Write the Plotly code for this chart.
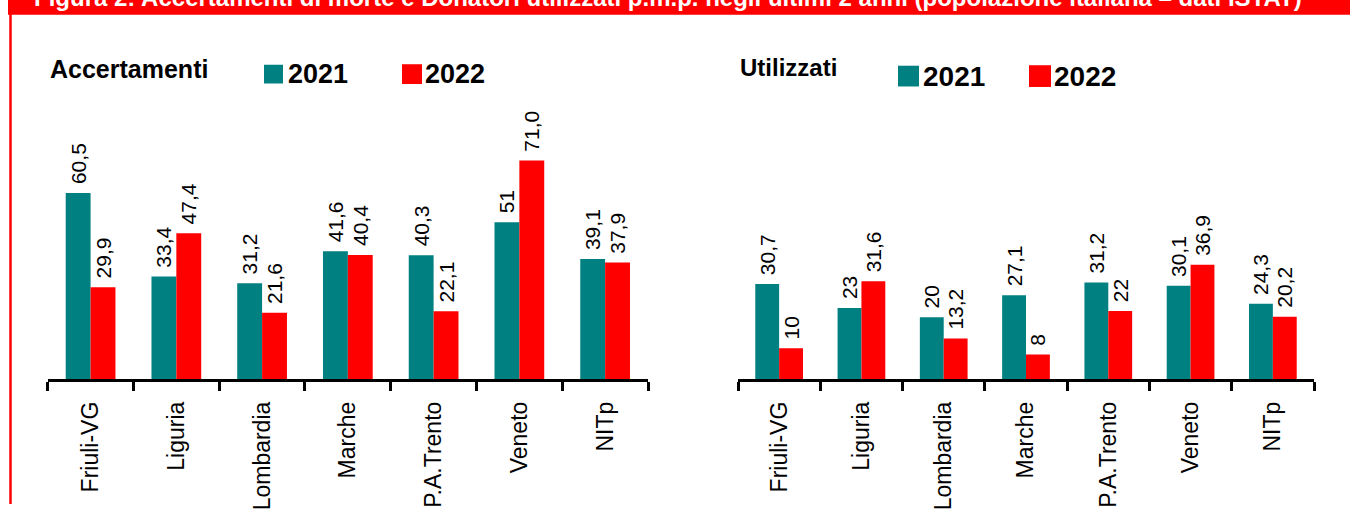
import plotly.graph_objects as go

W, H = 1350, 510

categories = ["Friuli-VG", "Liguria", "Lombardia", "Marche", "P.A.Trento", "Veneto", "NITp"]
series_names = ["2021", "2022"]

acc_2021 = [60.5, 33.4, 31.2, 41.6, 40.3, 51, 39.1]
acc_2022 = [29.9, 47.4, 21.6, 40.4, 22.1, 71.0, 37.9]
acc_2021_labels = ["60,5", "33,4", "31,2", "41,6", "40,3", "51", "39,1"]
acc_2022_labels = ["29,9", "47,4", "21,6", "40,4", "22,1", "71,0", "37,9"]

util_2021 = [30.7, 23, 20, 27.1, 31.2, 30.1, 24.3]
util_2022 = [10, 31.6, 13.2, 8, 22, 36.9, 20.2]
util_2021_labels = ["30,7", "23", "20", "27,1", "31,2", "30,1", "24,3"]
util_2022_labels = ["10", "31,6", "13,2", "8", "22", "36,9", "20,2"]

TEAL = "#008080"
RED = "#FF0000"
FONT = "Liberation Sans, Arial, sans-serif"


def px(x):
    return x / W


def py(y):
    return 1 - y / H


fig = go.Figure()


def add_bars(vals, labels, name, color, xa, ya):
    fig.add_trace(go.Bar(
        x=categories, y=vals, name=name,
        marker=dict(color=color, line=dict(width=0)),
        text=["\u00a0" + t for t in labels],
        textposition="outside", textangle=-90,
        textfont=dict(family=FONT, size=21, color="black"),
        constraintext="none", cliponaxis=False,
        xaxis=xa, yaxis=ya, showlegend=False,
    ))


add_bars(acc_2021, acc_2021_labels, series_names[0], TEAL, "x", "y")
add_bars(acc_2022, acc_2022_labels, series_names[1], RED, "x", "y")
add_bars(util_2021, util_2021_labels, series_names[0], TEAL, "x2", "y2")
add_bars(util_2022, util_2022_labels, series_names[1], RED, "x2", "y2")

ydom = [py(384), py(100)]

xaxis_common = dict(
    type="category", showline=True, linecolor="black", linewidth=3,
    ticks="outside", tickson="boundaries", ticklen=9, tickwidth=2.5, tickcolor="black",
    tickangle=-90, tickfont=dict(family=FONT, size=23, color="black"),
    ticklabelstandoff=10,
    showgrid=False, zeroline=False, fixedrange=True,
)

fig.update_layout(
    width=W, height=H,
    margin=dict(l=0, r=0, t=0, b=0),
    paper_bgcolor="white", plot_bgcolor="white",
    barmode="group", bargap=0.42, bargroupgap=0,
    showlegend=False,
    xaxis=dict(domain=[px(47.7), px(648)], anchor="y", **xaxis_common),
    yaxis=dict(domain=ydom, range=[0, 91.0], visible=False, anchor="x"),
    xaxis2=dict(domain=[px(738), px(1314)], anchor="y2", **xaxis_common),
    yaxis2=dict(domain=ydom, range=[0, 90.2], visible=False, anchor="x2"),
)

shapes = []
annotations = []

# Red banner and left border
shapes.append(dict(type="rect", xref="paper", yref="paper",
                   x0=px(8), x1=1, y0=py(15), y1=1,
                   fillcolor=RED, line=dict(width=0), layer="below"))
shapes.append(dict(type="line", xref="paper", yref="paper",
                   x0=px(10.5), x1=px(10.5), y0=0, y1=py(14),
                   line=dict(color=RED, width=2.5)))
annotations.append(dict(
    text="<b>Figura 2: Accertamenti di morte e Donatori utilizzati p.m.p. negli ultimi 2 anni (popolazione italiana \u2013 dati ISTAT)</b>",
    xref="paper", yref="paper", x=px(32), y=py(13.5), xanchor="left", yanchor="bottom",
    showarrow=False, font=dict(family=FONT, size=24, color="white")))

# Panel titles
annotations.append(dict(text="<b>Accertamenti</b>", xref="paper", yref="paper",
                        x=px(48), y=py(70), xanchor="left", yanchor="middle",
                        showarrow=False, font=dict(family=FONT, size=25, color="black")))
annotations.append(dict(text="<b>Utilizzati</b>", xref="paper", yref="paper",
                        x=px(738), y=py(68.5), xanchor="left", yanchor="middle",
                        showarrow=False, font=dict(family=FONT, size=24, color="black")))


# Legends
def legend_item(x_sq, sq, y_c, color, label, x_txt, size):
    shapes.append(dict(type="rect", xref="paper", yref="paper",
                       x0=px(x_sq), x1=px(x_sq + sq), y0=py(y_c + sq / 2), y1=py(y_c - sq / 2),
                       fillcolor=color, line=dict(width=0)))
    annotations.append(dict(text="<b>" + label + "</b>", xref="paper", yref="paper",
                            x=px(x_txt), y=py(y_c), xanchor="left", yanchor="middle",
                            showarrow=False, font=dict(family=FONT, size=size, color="black")))


legend_item(264, 19, 75, TEAL, series_names[0], 286, 27)
legend_item(402, 20, 75, RED, series_names[1], 423, 27)
legend_item(898, 21, 77, TEAL, series_names[0], 921, 28)
legend_item(1029, 22, 77, RED, series_names[1], 1052, 28)

fig.update_layout(shapes=shapes, annotations=annotations)

fig.write_html("out.html", config={"displayModeBar": False},
               post_script="document.body.style.margin='0px';")
